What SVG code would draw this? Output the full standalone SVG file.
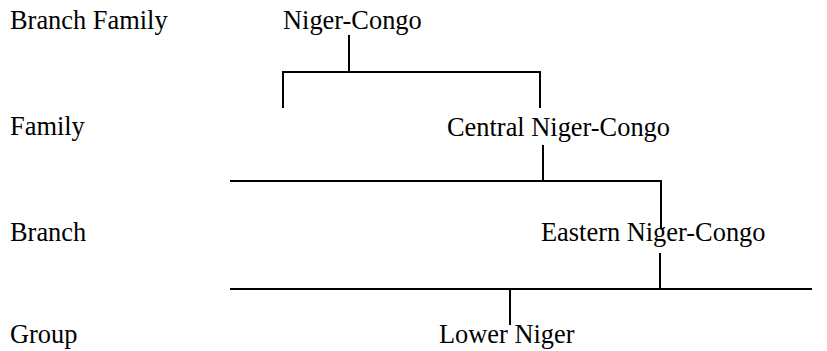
<svg xmlns="http://www.w3.org/2000/svg" width="827" height="351" viewBox="0 0 827 351">
<style>
text{font-family:'Liberation Serif','Tinos','DejaVu Serif',serif;font-size:26.4px;fill:#000}
.c line{stroke:#000;stroke-width:2}
</style>
<rect width="827" height="351" fill="#fff"/>
<g id="labels">
<text x="10" y="29">Branch Family</text>
<text x="10" y="135">Family</text>
<text x="10" y="241">Branch</text>
<text x="10" y="343">Group</text>
</g>
<g id="n-niger-congo"><text x="283" y="29">Niger-Congo</text></g>
<g id="n-central"><text x="447" y="136">Central Niger-Congo</text></g>
<g id="n-eastern"><text x="541" y="241">Eastern Niger-Congo</text></g>
<g id="n-lower"><text x="439" y="343">Lower Niger</text></g>
<g class="c" id="connectors">
<line x1="349" y1="35" x2="349" y2="72"/>
<line x1="282" y1="72" x2="541" y2="72"/>
<line x1="283" y1="71" x2="283" y2="108"/>
<line x1="540" y1="71" x2="540" y2="108"/>
<line x1="543" y1="145" x2="543" y2="181"/>
<line x1="230" y1="181" x2="662" y2="181"/>
<line x1="661" y1="180" x2="661" y2="229"/>
<line x1="660" y1="253" x2="660" y2="289"/>
<line x1="230" y1="289" x2="812" y2="289"/>
<line x1="510" y1="289" x2="510" y2="325"/>
</g>
</svg>
